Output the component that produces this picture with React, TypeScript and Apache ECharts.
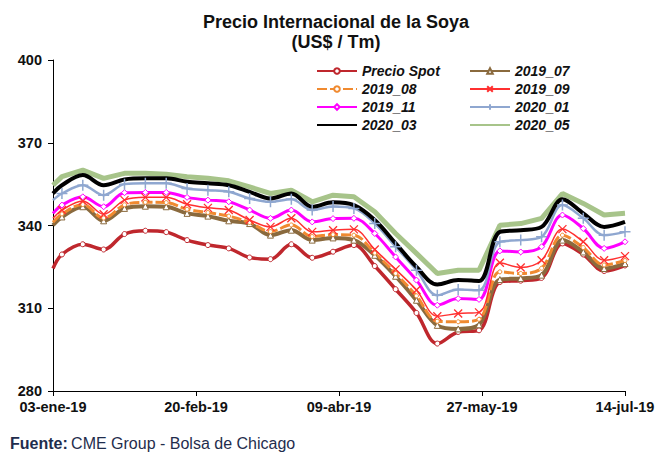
import React, { useEffect, useRef } from "react";
import * as echarts from "echarts";

const FONT = "'Liberation Sans', Arial, sans-serif";

const dates = [
  "2019-01-03", "2019-01-06", "2019-01-13", "2019-01-20", "2019-01-27", "2019-02-03",
  "2019-02-10", "2019-02-17", "2019-02-24", "2019-03-03", "2019-03-10", "2019-03-17",
  "2019-03-24", "2019-03-31", "2019-04-07", "2019-04-14", "2019-04-21", "2019-04-28",
  "2019-05-05", "2019-05-12", "2019-05-19", "2019-05-26", "2019-06-02", "2019-06-09",
  "2019-06-16", "2019-06-23", "2019-06-30", "2019-07-07", "2019-07-14",
];

const precioSpot = [
  324.4, 329.5, 333.2, 331.3, 336.9, 338.1, 337.6, 334.7, 332.9, 331.7, 328.4, 327.8,
  333.2, 328.3, 330.5, 332.9, 325.3, 316.9, 308.3, 297.2, 301.4, 302.0, 319.5, 320.0,
  321.0, 333.5, 329.5, 323.5, 325.5,
];
const c2019_07 = [
  340.1, 343.1, 346.8, 341.7, 346.2, 347.0, 346.8, 344.4, 343.4, 341.7, 340.7, 336.5,
  338.3, 334.7, 335.5, 334.7, 329.2, 321.6, 312.9, 303.8, 302.5, 304.0, 320.4, 320.8,
  322.0, 334.7, 330.4, 324.4, 326.2,
];
const c2019_08 = [
  341.2, 344.2, 347.6, 342.7, 347.5, 348.4, 348.3, 345.9, 344.7, 343.4, 341.1, 337.8,
  340.2, 336.0, 336.7, 336.5, 330.0, 322.6, 314.5, 305.3, 305.1, 306.0, 323.2, 322.6,
  324.5, 336.5, 332.0, 325.7, 327.3,
];
const c2019_09 = [
  342.6, 345.6, 348.9, 344.1, 349.2, 350.2, 350.2, 347.7, 346.4, 345.6, 342.0, 339.5,
  342.6, 337.7, 338.3, 338.6, 331.3, 324.1, 316.6, 307.1, 308.1, 308.5, 326.5, 324.8,
  327.4, 338.7, 334.1, 327.4, 328.9,
];
const c2019_11 = [
  344.4, 347.4, 350.4, 346.8, 351.9, 352.0, 352.0, 350.2, 349.2, 348.6, 345.6, 342.6,
  345.6, 341.3, 342.5, 342.6, 337.1, 328.6, 320.2, 311.1, 313.5, 313.2, 330.8, 330.4,
  332.3, 343.8, 338.9, 331.7, 334.1,
];
const c2020_01 = [
  349.2, 351.6, 354.6, 351.0, 355.0, 355.3, 355.3, 353.4, 352.8, 352.2, 349.8, 348.6,
  349.5, 345.6, 346.9, 346.2, 340.7, 332.3, 323.8, 314.7, 316.8, 316.5, 334.1, 334.7,
  335.9, 347.4, 342.6, 336.5, 337.7,
];
const c2020_03 = [
  351.6, 354.6, 358.3, 354.6, 356.7, 357.1, 357.1, 355.9, 355.3, 354.6, 352.2, 349.8,
  351.6, 346.8, 348.4, 347.4, 342.0, 333.5, 325.0, 318.6, 320.2, 319.9, 337.7, 338.3,
  339.5, 349.5, 344.4, 339.5, 341.3,
];
const c2020_05 = [
  354.6, 357.7, 360.1, 357.1, 358.9, 358.9, 358.6, 357.7, 357.1, 356.2, 354.0, 351.6,
  352.8, 348.6, 351.0, 350.4, 345.0, 337.1, 329.9, 322.6, 323.8, 323.8, 340.1, 340.7,
  342.6, 351.6, 348.0, 343.8, 344.4,
];

const xTickLabels = ["03-ene-19", "20-feb-19", "09-abr-19", "27-may-19", "14-jul-19"];
const yTicks = { min: 280, max: 400, step: 30 };
const xTickStepDays = 48;

const legendLeft = ["Precio Spot", "2019_08", "2019_11", "2020_03"];
const legendRight = ["2019_07", "2019_09", "2020_01", "2020_05"];
const noMarkerSeries = ["2020_03", "2020_05"];

const START = Date.parse(dates[0]);
const dayOf = (d: string) => Math.round((Date.parse(d) - START) / 86400000);
const toPairs = (vals: number[]) =>
  vals.map((v, i) =>
    i === 0 ? { value: [dayOf(dates[i]), v], symbol: "none" } : [dayOf(dates[i]), v]
  );

const X_SYMBOL = "path://M0,0L10,10M0,10L10,0";
const PLUS_SYMBOL = "path://M5,0L5,10M0,5L10,5";

export default function App() {
  const ref = useRef<HTMLDivElement>(null);

  useEffect(() => {
    if (!ref.current) return;
    const chart = echarts.init(ref.current, undefined, { renderer: "svg" });
    const lastDay = dayOf(dates[dates.length - 1]);

    const line = (
      name: string,
      vals: number[],
      color: string,
      width: number,
      extra: any = {}
    ) => ({
      name,
      type: "line",
      data: toPairs(vals),
      smooth: 0.35,
      showAllSymbol: true,
      symbol: "none",
      lineStyle: { color, width },
      itemStyle: { color },
      emphasis: { disabled: true },
      ...extra,
    });

    const legendItems = (names: string[]) =>
      names.map((n) =>
        noMarkerSeries.includes(n)
          ? { name: n, itemStyle: { color: "rgba(0,0,0,0)", borderColor: "rgba(0,0,0,0)", borderWidth: 0 } }
          : { name: n }
      );

    chart.setOption({
      animation: false,
      grid: { left: 53, right: 34, top: 60, bottom: 61, containLabel: false },
      graphic: [
        {
          type: "text",
          x: 336,
          y: 22,
          style: {
            text: "Precio Internacional de la Soya",
            font: `bold 18px ${FONT}`,
            fill: "#111",
            textAlign: "center",
            textVerticalAlign: "middle",
          },
        },
        {
          type: "text",
          x: 336,
          y: 42,
          style: {
            text: "(US$ / Tm)",
            font: `bold 18px ${FONT}`,
            fill: "#111",
            textAlign: "center",
            textVerticalAlign: "middle",
          },
        },
        {
          type: "text",
          x: 10,
          y: 443,
          style: {
            text: "{b|Fuente:} {n|CME Group - Bolsa de Chicago}",
            rich: {
              b: { fontFamily: FONT, fontSize: 16, fontWeight: "bold", fill: "#1F2D4D" },
              n: { fontFamily: FONT, fontSize: 16, fill: "#1F2D4D" },
            },
            textVerticalAlign: "middle",
          },
        },
      ],
      legend: [legendLeft, legendRight].map((names, i) => ({
        data: legendItems(names),
        orient: "vertical",
        left: i === 0 ? 316 : 469,
        top: 64,
        padding: 0,
        itemWidth: 40,
        itemHeight: 7,
        itemGap: 4,
        selectedMode: false,
        textStyle: {
          fontFamily: FONT,
          fontSize: 14,
          fontStyle: "italic",
          fontWeight: "bold",
          color: "#111",
          lineHeight: 14,
        },
      })),
      xAxis: {
        type: "value",
        min: 0,
        max: lastDay,
        interval: xTickStepDays,
        axisLine: { show: true, onZero: false, lineStyle: { color: "#000", width: 1 } },
        axisTick: { show: true, inside: false, length: 5, lineStyle: { color: "#000" } },
        splitLine: { show: false },
        axisLabel: {
          margin: 8,
          fontFamily: FONT,
          fontSize: 14.5,
          fontWeight: "bold",
          color: "#111",
          showMinLabel: true,
          showMaxLabel: true,
          formatter: (v: number) => xTickLabels[Math.round(v / xTickStepDays)] ?? "",
        },
      },
      yAxis: {
        type: "value",
        min: yTicks.min,
        max: yTicks.max,
        interval: yTicks.step,
        axisLine: { show: true, lineStyle: { color: "#000", width: 1 } },
        axisTick: { show: true, inside: false, length: 5, lineStyle: { color: "#000" } },
        splitLine: { show: false },
        axisLabel: {
          margin: 11,
          fontFamily: FONT,
          fontSize: 14.5,
          fontWeight: "bold",
          color: "#111",
          padding: [0, 0, 2, 0],
        },
      },
      series: [
        line("2020_05", c2020_05, "#A7C48A", 5, { smooth: false, z: 1 }),
        line("Precio Spot", precioSpot, "#BF272D", 3.5, {
          symbol: "circle",
          symbolSize: 5,
          itemStyle: { color: "#fff", borderColor: "#BF272D", borderWidth: 1 },
          z: 2,
        }),
        line("2019_07", c2019_07, "#8A6A3E", 4, {
          symbol: "triangle",
          symbolSize: 6,
          itemStyle: { color: "#fff", borderColor: "#8A6A3E", borderWidth: 1 },
          z: 2,
        }),
        line("2019_08", c2019_08, "#F08A30", 3, {
          symbol: "circle",
          symbolSize: 4,
          lineStyle: { color: "#F08A30", width: 3, type: [10, 3] },
          itemStyle: { color: "#fff", borderColor: "#F08A30", borderWidth: 1 },
          z: 2,
        }),
        line("2019_09", c2019_09, "#FF3030", 1.5, {
          symbol: X_SYMBOL,
          symbolSize: 8,
          itemStyle: { color: "#FF3030", borderColor: "#FF3030", borderWidth: 1.3 },
          z: 2,
        }),
        line("2019_11", c2019_11, "#FF00FF", 3, {
          symbol: "diamond",
          symbolSize: 6,
          itemStyle: { color: "#fff", borderColor: "#FF00FF", borderWidth: 1 },
          z: 2,
        }),
        line("2020_01", c2020_01, "#8FA7D0", 2.5, {
          symbol: PLUS_SYMBOL,
          symbolSize: 11,
          itemStyle: { color: "#8FA7D0", borderColor: "#8FA7D0", borderWidth: 1.5 },
          z: 2,
        }),
        line("2020_03", c2020_03, "#000000", 4, { z: 2 }),
      ],
    });

    return () => chart.dispose();
  }, []);

  return (
    <div
      ref={ref}
      style={{ position: "fixed", left: 0, top: 0, width: 659, height: 452, background: "#fff" }}
    />
  );
}
